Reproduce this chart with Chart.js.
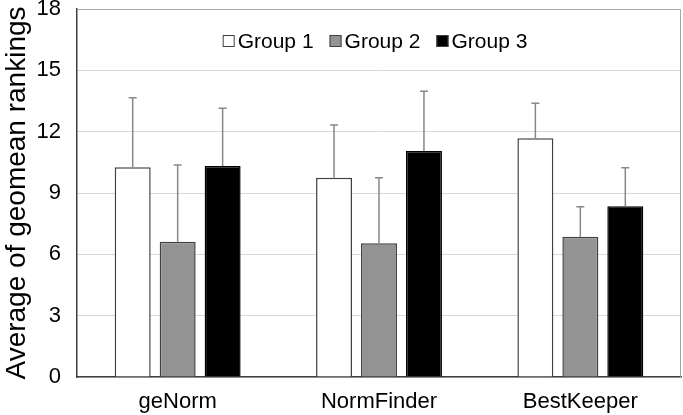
<!DOCTYPE html>
<html>
<head>
<meta charset="utf-8">
<script src="https://cdn.jsdelivr.net/npm/chart.js@4.4.1/dist/chart.umd.min.js"></script>
<style>
  html, body { margin: 0; padding: 0; background: #fff; }
  #wrap { width: 683px; height: 415px; }
</style>
</head>
<body>
<div id="wrap"><canvas id="chart"></canvas></div>
<script>
const categories = ['geNorm', 'NormFinder', 'BestKeeper'];
const groupNames = ['Group 1', 'Group 2', 'Group 3'];
const group1 = [10.26, 9.75, 11.68];
const group2 = [6.62, 6.54, 6.86];
const group3 = [10.32, 11.06, 8.35];
const group1Err = [3.40, 2.58, 1.71];
const group2Err = [3.75, 3.21, 1.47];
const group3Err = [2.83, 2.92, 1.89];
const yTicks = [0, 3, 6, 9, 12, 15, 18];

const FONT = 'Liberation Sans, Arial, sans-serif';

// upward-only error bars with small caps
const errorBars = {
  id: 'errorBars',
  afterDatasetsDraw(chart) {
    const ctx = chart.ctx;
    const y = chart.scales.y;
    ctx.save();
    ctx.strokeStyle = '#888888';
    ctx.lineWidth = 1.5;
    chart.data.datasets.forEach((ds, i) => {
      const meta = chart.getDatasetMeta(i);
      meta.data.forEach((bar, j) => {
        const top = y.getPixelForValue(ds.data[j] + ds.errors[j]);
        ctx.beginPath();
        ctx.moveTo(bar.x, bar.y);
        ctx.lineTo(bar.x, top);
        ctx.moveTo(bar.x - 4, top);
        ctx.lineTo(bar.x + 4, top);
        ctx.stroke();
      });
    });
    ctx.restore();
  }
};

// gray frame on top and right of the plot area
const frame = {
  id: 'frame',
  beforeDatasetsDraw(chart) {
    const a = chart.chartArea;
    const ctx = chart.ctx;
    ctx.save();
    ctx.strokeStyle = '#a6a6a6';
    ctx.lineWidth = 1;
    ctx.beginPath();
    ctx.moveTo(a.left, a.top + 0.5);
    ctx.lineTo(a.right - 0.5, a.top + 0.5);
    ctx.lineTo(a.right - 0.5, a.bottom);
    ctx.stroke();
    ctx.restore();
  }
};

// horizontal legend inside the plot area, near the top
const insideLegend = {
  id: 'insideLegend',
  afterDraw(chart) {
    const a = chart.chartArea;
    const ctx = chart.ctx;
    const box = 12, gapText = 3, gapItem = 16;
    ctx.save();
    ctx.font = '21px ' + FONT;
    ctx.textBaseline = 'middle';
    const items = chart.data.datasets.map(ds => ({ ds, w: box + gapText + ctx.measureText(ds.label).width }));
    const total = items.reduce((s, it) => s + it.w, 0) + gapItem * (items.length - 1);
    let x = (a.left + a.right) / 2 - total / 2 - 4;
    const cy = a.top + 32;
    items.forEach(it => {
      ctx.fillStyle = it.ds.backgroundColor;
      ctx.fillRect(x, cy - box / 2, box, box);
      ctx.strokeStyle = '#404040';
      ctx.lineWidth = 1;
      ctx.strokeRect(x + 0.5, cy - box / 2 + 0.5, box - 1, box - 1);
      ctx.fillStyle = '#000000';
      ctx.fillText(it.ds.label, x + box + gapText, cy + 1);
      x += it.w + gapItem;
    });
    ctx.restore();
  }
};

const ctx = document.getElementById('chart').getContext('2d');
new Chart(ctx, {
  type: 'bar',
  data: {
    labels: categories,
    datasets: [
      { label: groupNames[0], data: group1, errors: group1Err, backgroundColor: '#ffffff', borderColor: '#404040', borderWidth: 1.5 },
      { label: groupNames[1], data: group2, errors: group2Err, backgroundColor: '#939393', borderColor: '#404040', borderWidth: 1.5 },
      { label: groupNames[2], data: group3, errors: group3Err, backgroundColor: '#000000', borderColor: '#000000', borderWidth: 1.5 }
    ]
  },
  options: {
    responsive: true,
    maintainAspectRatio: false,
    animation: false,
    categoryPercentage: 0.67,
    barPercentage: 0.8,
    layout: { padding: { top: 0, right: 2, bottom: 0, left: 0 } },
    plugins: {
      tooltip: { enabled: false },
      legend: { display: false }
    },
    scales: {
      x: {
        grid: { display: false },
        border: { color: '#404040', width: 1.5 },
        ticks: { font: { family: FONT, size: 22 }, color: '#000000', padding: 4 },
        afterFit: (axis) => { axis.height = 38; axis.paddingLeft = 0; axis.paddingRight = 0; }
      },
      y: {
        min: 0,
        max: 18,
        afterBuildTicks: (axis) => { axis.ticks = yTicks.map(v => ({ value: v })); },
        afterFit: (axis) => { axis.width = 77; axis.paddingTop = 9; axis.paddingBottom = 0; },
        grid: { color: '#d9d9d9', drawTicks: false },
        border: { color: '#404040', width: 1.5 },
        ticks: { font: { family: FONT, size: 22 }, color: '#000000', padding: 16 },
        title: { display: true, text: 'Average of geomean rankings', font: { family: FONT, size: 28 }, color: '#000000', padding: { top: 0, bottom: 4 } }
      }
    }
  },
  plugins: [frame, errorBars, insideLegend]
});
</script>
</body>
</html>
